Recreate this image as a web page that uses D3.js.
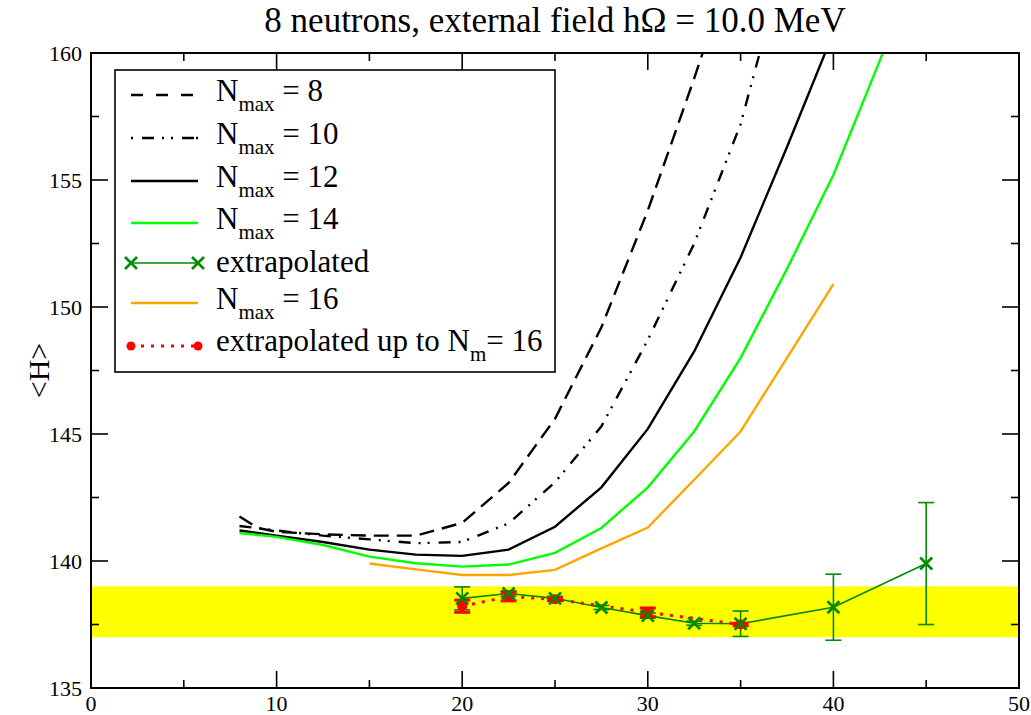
<!DOCTYPE html>
<html><head><meta charset="utf-8">
<script src="https://cdn.jsdelivr.net/npm/d3@7"></script>
<style>body{margin:0;background:#fff}</style>
</head><body><svg id="c" width="1031" height="715"></svg>
<script>
const xTicks = [0, 10, 20, 30, 40, 50];
const yTicks = [135, 140, 145, 150, 155, 160];
const band = [137.0, 139.0];

const x8 = [8, 9, 10, 12.5, 15, 17.5, 20, 22.5, 25, 27.5, 30, 32.5, 35];
const y8 = [141.75, 141.3, 141.15, 141.05, 141.0, 141.0, 141.5, 143.07, 145.6, 149.2, 153.8, 159.0, 164.5];
const x10 = [8, 10, 12.5, 15, 17.5, 20, 22.5, 25, 27.5, 30, 32.5, 35, 37.5];
const y10 = [141.38, 141.2, 141.0, 140.85, 140.7, 140.75, 141.48, 143.1, 145.3, 148.7, 152.5, 157.2, 164.0];
const x12 = [8, 10, 12.5, 15, 17.5, 20, 22.5, 25, 27.5, 30, 32.5, 35, 37.5, 40];
const y12 = [141.2, 141.0, 140.75, 140.45, 140.25, 140.2, 140.45, 141.35, 142.9, 145.2, 148.25, 151.95, 156.3, 160.8];
const x14 = [8, 10, 12.5, 15, 17.5, 20, 22.5, 25, 27.5, 30, 32.5, 35, 37.5, 40, 42.5, 45];
const y14 = [141.1, 140.95, 140.63, 140.17, 139.91, 139.78, 139.86, 140.32, 141.3, 142.9, 145.1, 148.0, 151.5, 155.2, 159.7, 164.5];
const x16 = [15, 17.5, 20, 22.5, 25, 27.5, 30, 32.5, 35, 37.5, 40];
const y16 = [139.9, 139.67, 139.45, 139.45, 139.65, 140.5, 141.32, 143.2, 145.1, 148.0, 150.9];

const xExt = [20, 22.5, 25, 27.5, 30, 32.5, 35, 40, 45];
const yExt = [138.53, 138.72, 138.53, 138.17, 137.85, 137.55, 137.53, 138.18, 139.9];
const eExt = [0.45, 0.1, 0.08, 0.08, 0.1, 0.08, 0.5, 1.3, 2.4];
const xExt16 = [20, 22.5, 25, 30, 35];
const yExt16 = [138.22, 138.6, 138.49, 137.98, 137.5];
const eExt16 = [0.24, 0.17, 0.05, 0.17, 0.05];

const svg = d3.select("#c");
const L = 91, R = 1019, T = 53, B = 688;
const x = d3.scaleLinear().domain([0, 50]).range([L, R]);
const y = d3.scaleLinear().domain([135, 160]).range([B, T]);
function txt(sel){
  return sel.append("text").attr("font-family","Liberation Serif")
    .style("font-family",'"Liberation Serif", serif').attr("fill","#000");
}

svg.append("rect").attr("x",L).attr("width",R-L)
  .attr("y",y(band[1])).attr("height",y(band[0])-y(band[1])).attr("fill","#ffff00");

const g = svg.append("svg").attr("x",L).attr("y",T).attr("width",R-L).attr("height",B-T)
  .attr("viewBox",`${L} ${T} ${R-L} ${B-T}`).attr("overflow","hidden");
const line = d3.line().x(d=>x(d[0])).y(d=>y(d[1]));
const zip = (a,b)=>a.map((v,i)=>[v,b[i]]);

const series = [
  {xs:x8, ys:y8, color:"#000", w:2.4, dash:"15,8"},
  {xs:x10, ys:y10, color:"#000", w:2.4, dash:"12,8,2,7,2,9"},
  {xs:x12, ys:y12, color:"#000", w:2.4, dash:null},
  {xs:x14, ys:y14, color:"#00ff00", w:2.4, dash:null},
  {xs:x16, ys:y16, color:"#ffa500", w:2.4, dash:null}
];
series.forEach(s=>{
  g.append("path").attr("d",line(zip(s.xs,s.ys))).attr("fill","none")
   .attr("stroke",s.color).attr("stroke-width",s.w)
   .attr("stroke-dasharray",s.dash);
});

const dg = "#008b00";
g.append("path").attr("d",line(zip(xExt,yExt))).attr("fill","none").attr("stroke",dg).attr("stroke-width",1.6);
xExt.forEach((xv,i)=>{
  const cx=x(xv), y1=y(yExt[i]+eExt[i]), y2=y(yExt[i]-eExt[i]);
  g.append("line").attr("x1",cx).attr("x2",cx).attr("y1",y1).attr("y2",y2).attr("stroke",dg).attr("stroke-width",1.6);
  [y1,y2].forEach(yy=>g.append("line").attr("x1",cx-8).attr("x2",cx+8).attr("y1",yy).attr("y2",yy).attr("stroke",dg).attr("stroke-width",1.6));
});
function xMark(sel,cx,cy,s){
  sel.append("path").attr("d",`M${cx-s},${cy-s}L${cx+s},${cy+s}M${cx-s},${cy+s}L${cx+s},${cy-s}`)
    .attr("stroke",dg).attr("stroke-width",2.6).attr("fill","none");
}
g.append("path").attr("d",line(zip(xExt16,yExt16))).attr("fill","none").attr("stroke","#ff0000")
  .attr("stroke-width",3).attr("stroke-dasharray","3,7");
xExt16.forEach((xv,i)=>{
  const cx=x(xv), y1=y(yExt16[i]+eExt16[i]), y2=y(yExt16[i]-eExt16[i]);
  g.append("line").attr("x1",cx).attr("x2",cx).attr("y1",y1).attr("y2",y2).attr("stroke","#ff0000").attr("stroke-width",2.5);
  [y1,y2].forEach(yy=>g.append("line").attr("x1",cx-8).attr("x2",cx+8).attr("y1",yy).attr("y2",yy).attr("stroke","#ff0000").attr("stroke-width",3));
  g.append("circle").attr("cx",cx).attr("cy",y(yExt16[i])).attr("r",5).attr("fill","#ff0000");
});
xExt.forEach((xv,i)=>xMark(g,x(xv),y(yExt[i]),6));

svg.append("rect").attr("x",L).attr("y",T).attr("width",R-L).attr("height",B-T)
  .attr("fill","none").attr("stroke","#000").attr("stroke-width",2);

const tk = svg.append("g").attr("stroke","#000").attr("stroke-width",1.6);
d3.range(0,50.01,5).forEach(v=>{
  const len = v%10===0?17:8;
  tk.append("line").attr("x1",x(v)).attr("x2",x(v)).attr("y1",B).attr("y2",B-len);
  tk.append("line").attr("x1",x(v)).attr("x2",x(v)).attr("y1",T).attr("y2",T+len);
});
d3.range(135,160.01,2.5).forEach(v=>{
  const len = (v%5===0)?17:8;
  tk.append("line").attr("y1",y(v)).attr("y2",y(v)).attr("x1",L).attr("x2",L+len);
  tk.append("line").attr("y1",y(v)).attr("y2",y(v)).attr("x1",R).attr("x2",R-len);
});
xTicks.forEach(v=>txt(svg).attr("x",x(v)).attr("y",711).attr("text-anchor","middle")
  .attr("font-size",22).text(v));
yTicks.forEach(v=>txt(svg).attr("x",82).attr("y",y(v)+8).attr("text-anchor","end")
  .attr("font-size",22).text(v));

txt(svg).attr("x",(L+R)/2).attr("y",32).attr("text-anchor","middle")
  .attr("font-size",35).text("8 neutrons, external field hΩ = 10.0 MeV");
txt(svg).attr("transform",`translate(49,${(T+B)/2}) rotate(-90)`).attr("text-anchor","middle")
  .attr("font-size",30).text("<H>");

const leg = svg.append("g");
leg.append("rect").attr("x",115).attr("y",70).attr("width",440).attr("height",302)
  .attr("fill","#fff").attr("stroke","#000").attr("stroke-width",1.6);
const lx1=131, lx2=198, tx=216, fs=31;
const entries = [
  {y:95, type:"line", color:"#000", dash:"12,13", main:"N", sub:"max", rest:" = 8"},
  {y:138, type:"line", color:"#000", dash:"2,9,12,8,2,7,2,9,12", main:"N", sub:"max", rest:" = 10"},
  {y:181, type:"line", color:"#000", dash:null, main:"N", sub:"max", rest:" = 12"},
  {y:223, type:"line", color:"#00ff00", dash:null, main:"N", sub:"max", rest:" = 14"},
  {y:263, type:"ext", label:"extrapolated"},
  {y:303, type:"line", color:"#ffa500", dash:null, main:"N", sub:"max", rest:" = 16"},
  {y:346, type:"red", label:"extrapolated up to N", sub:"m", rest:"= 16"}
];
entries.forEach(e=>{
  if(e.type==="line"){
    leg.append("line").attr("x1",lx1).attr("x2",lx2).attr("y1",e.y).attr("y2",e.y)
      .attr("stroke",e.color).attr("stroke-width",2.6).attr("stroke-dasharray",e.dash);
    const t = txt(leg).attr("x",tx).attr("y",e.y+6).attr("font-size",fs);
    t.append("tspan").text(e.main);
    t.append("tspan").attr("dy",10).attr("font-size",21).text(e.sub);
    t.append("tspan").attr("dy",-10).text(e.rest);
  } else if(e.type==="ext"){
    leg.append("line").attr("x1",lx1).attr("x2",lx2).attr("y1",e.y).attr("y2",e.y).attr("stroke",dg).attr("stroke-width",1.6);
    xMark(leg,lx1,e.y,6); xMark(leg,lx2,e.y,6);
    txt(leg).attr("x",tx).attr("y",e.y+9).attr("font-size",fs).text(e.label);
  } else {
    leg.append("line").attr("x1",lx1).attr("x2",lx2).attr("y1",e.y).attr("y2",e.y).attr("stroke","#ff0000")
      .attr("stroke-width",3).attr("stroke-dasharray","3,7");
    leg.append("circle").attr("cx",lx1).attr("cy",e.y).attr("r",4.5).attr("fill","#ff0000");
    leg.append("circle").attr("cx",lx2).attr("cy",e.y).attr("r",4.5).attr("fill","#ff0000");
    const t = txt(leg).attr("x",tx).attr("y",e.y+5).attr("font-size",fs);
    t.append("tspan").text(e.label);
    t.append("tspan").attr("dy",10).attr("font-size",21).text(e.sub);
    t.append("tspan").attr("dy",-10).text(e.rest);
  }
});
</script></body></html>
